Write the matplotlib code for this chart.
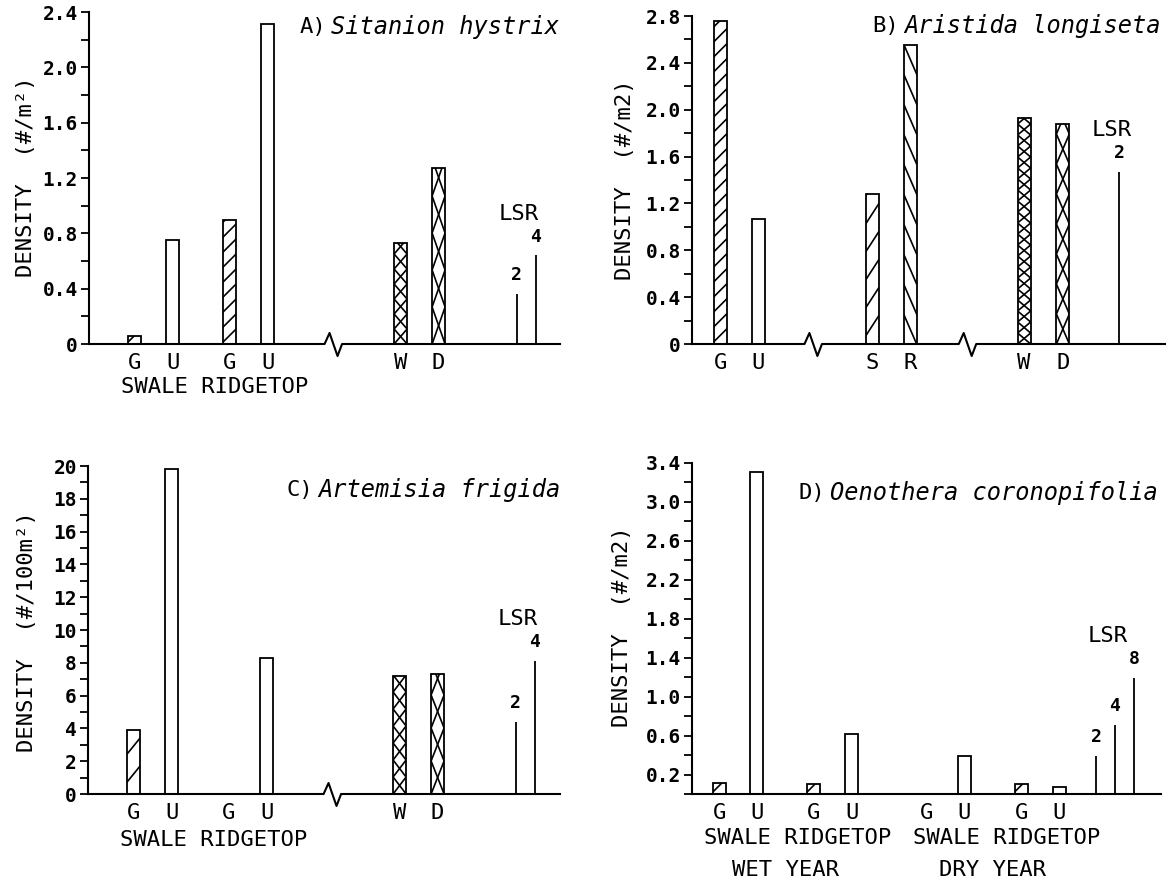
"""
Density bar charts for four species (swale / ridgetop, wet / dry year)
"""

import numpy as np
import matplotlib
matplotlib.use('Agg')  # no display
import matplotlib.pyplot as plt

plt.rcParams['font.family'] = ['DejaVu Sans Mono', 'DejaVu Sans']
plt.rcParams['axes.linewidth'] = 1.5

# ---- data ----
a_labels = ['G', 'U', 'G', 'U', 'W', 'D']
a_values = [0.06, 0.75, 0.90, 2.31, 0.73, 1.27]
a_lsr_labels = ['2', '4']
a_lsr_values = [0.36, 0.64]

b_labels = ['G', 'U', 'S', 'R', 'W', 'D']
b_values = [2.76, 1.07, 1.28, 2.55, 1.93, 1.88]
b_lsr_labels = ['2']
b_lsr_values = [1.47]

c_labels = ['G', 'U', 'G', 'U', 'W', 'D']
c_values = [3.9, 19.8, 0.0, 8.3, 7.2, 7.3]
c_lsr_labels = ['2', '4']
c_lsr_values = [4.4, 8.1]

d_labels = ['G', 'U', 'G', 'U', 'G', 'U', 'G', 'U']
d_values = [0.11, 3.31, 0.10, 0.62, 0.0, 0.39, 0.10, 0.07]
d_lsr_labels = ['2', '4', '8']
d_lsr_values = [0.39, 0.71, 1.19]

# ---- layout (pixels on a 1169x884 canvas, x slots of 38 px) ----
W_PX, H_PX = 1169, 884
SLOT = 38.0
BAR_W = 13 / SLOT

fig = plt.figure(figsize=(11.69, 8.84), dpi=100)
fig.patch.set_facecolor('white')


def make_axes(left, top, right, bottom):
    ax = fig.add_axes([left / W_PX, 1 - bottom / H_PX,
                       (right - left) / W_PX, (bottom - top) / H_PX])
    ax.set_xlim(0, (right - left) / SLOT)
    for side in ('top', 'right', 'bottom'):
        ax.spines[side].set_visible(False)
    ax.set_xticks([])
    ax.patch.set_alpha(0)
    return ax


def hatch_bar(ax, rect, kind, step, rise):
    """Draw sparse hatch lines (step / rise given in pixels) clipped to a bar."""
    x0, y0 = rect.get_x(), rect.get_y()
    x1, y1 = x0 + rect.get_width(), y0 + rect.get_height()
    (px0, py0), (px1, py1) = ax.transData.transform([(x0, y0), (x1, y1)])
    inv = ax.transData.inverted()
    dirs = {'/': [1], '\\': [-1], 'x': [1, -1]}[kind]
    for d in dirs:
        c = py0 - rise
        while c < py1:
            if d == 1:
                pts = [(px0, c), (px1, c + rise)]
            else:
                pts = [(px0, c + rise), (px1, c)]
            (dx0, dy0), (dx1, dy1) = inv.transform(pts)
            line, = ax.plot([dx0, dx1], [dy0, dy1], color='black', lw=1.2, zorder=3)
            line.set_clip_path(rect)
            c += step


def baseline(ax, breaks, height_px):
    xmax = ax.get_xlim()[1]
    up, down = 11 / height_px, -12 / height_px
    xs, ys = [0], [0]
    for b in breaks:
        xs += [b - 0.22, b - 0.09, b + 0.12, b + 0.24]
        ys += [0, up, down, 0]
    xs.append(xmax)
    ys.append(0)
    ax.plot(xs, ys, color='black', lw=1.5, transform=ax.get_xaxis_transform(),
            clip_on=False, zorder=4)


def below(ax, x, text, dy_px, size=16, ha='center', dx_px=0):
    ax.annotate(text, xy=(x, 0), xycoords=('data', 'axes fraction'),
                xytext=(dx_px * 0.72, -dy_px * 0.72), textcoords='offset points',
                ha=ha, va='center', fontsize=size, annotation_clip=False)


def draw_panel(ax, pos, values, labels, hatches, lsr_pos, lsr_values, lsr_labels,
               breaks, ymax, major, minor, fmt, height_px):
    ax.set_ylim(0, ymax)
    bars = ax.bar(pos, values, width=BAR_W, facecolor='white', edgecolor='black',
                  linewidth=1.3, zorder=2)
    for rect, h in zip(bars, hatches):
        if h is not None:
            hatch_bar(ax, rect, *h)
    ax.vlines(lsr_pos, 0, lsr_values, color='black', lw=1.3, zorder=2)
    for x, v, t in zip(lsr_pos, lsr_values, lsr_labels):
        ax.annotate(t, xy=(x, v), xytext=(0, 13.5), textcoords='offset points',
                    ha='center', va='center', fontsize=13, fontweight='bold')
    top_i = int(np.argmax(lsr_values))
    ax.annotate('LSR', xy=(np.mean(lsr_pos), lsr_values[top_i]),
                xytext=(-5, 30), textcoords='offset points',
                ha='center', va='center', fontsize=16)
    baseline(ax, breaks, height_px)

    ax.set_yticks(major)
    ax.set_yticklabels([fmt(v) for v in major], fontsize=14, fontweight='bold')
    ax.set_yticks(minor, minor=True)
    ax.tick_params(axis='y', which='both', direction='out', length=6, width=1.3, pad=2)

    for x, t in zip(pos, labels):
        below(ax, x, t, 19)


def fmt_dec(v):
    return '0' if abs(v) < 1e-9 else '%.1f' % v


def fmt_int(v):
    return '%d' % round(v)


# ---- panel A ----
ax_a = make_axes(89, 12, 560, 344)
pos_ac = [1.2, 2.2, 3.7, 4.7, 8.2, 9.2]
lsr_pos_ac = [11.25, 11.75]
hatch_a = [('/', 15, 13), None, ('/', 15, 13), None, ('x', 15, 15), ('x', 37, 37)]
draw_panel(ax_a, pos_ac, a_values, a_labels, hatch_a, lsr_pos_ac, a_lsr_values,
           a_lsr_labels, [6.42], 2.4, np.arange(0, 2.41, 0.4),
           np.arange(0, 2.41, 0.2), fmt_dec, 332)
below(ax_a, pos_ac[0], 'SWALE RIDGETOP', 43, ha='left', dx_px=-14)

# ---- panel B ----
ax_b = make_axes(692, 16, 1165, 344)
pos_b = [0.74, 1.74, 4.74, 5.74, 8.74, 9.76]
hatch_b = [('/', 15, 13), None, ('/', 28, 20), ('\\', 30, 30), ('x', 11, 11), ('x', 30, 30)]
draw_panel(ax_b, pos_b, b_values, b_labels, hatch_b, [11.24], b_lsr_values,
           b_lsr_labels, [3.18, 7.24], 2.8, np.arange(0, 2.81, 0.4),
           np.arange(0, 2.81, 0.2), fmt_dec, 328)

# ---- panel C ----
ax_c = make_axes(88, 466, 560, 794)
hatch_c = [('/', 28, 16), None, None, None, ('x', 17, 17), ('x', 33, 33)]
draw_panel(ax_c, pos_ac, c_values, c_labels, hatch_c, lsr_pos_ac, c_lsr_values,
           c_lsr_labels, [6.42], 20, np.arange(0, 20.1, 2),
           np.arange(0, 20.1, 1), fmt_int, 328)
below(ax_c, pos_ac[0], 'SWALE RIDGETOP', 46, ha='left', dx_px=-14)

# ---- panel D ----
ax_d = make_axes(692, 463, 1161, 794)
pos_d = [0.72, 1.71, 3.2, 4.2, 6.17, 7.17, 8.66, 9.66]
hatch_d = [('/', 15, 13), None, ('/', 15, 13), None, None, None, ('/', 15, 13), None]
draw_panel(ax_d, pos_d, d_values, d_labels, hatch_d, [10.63, 11.13, 11.63],
           d_lsr_values, d_lsr_labels, [], 3.4, np.arange(0.2, 3.41, 0.4),
           np.arange(0, 3.41, 0.2), fmt_dec, 331)
below(ax_d, pos_d[0], 'SWALE RIDGETOP', 44, ha='left', dx_px=-15)
below(ax_d, pos_d[4], 'SWALE RIDGETOP', 44, ha='left', dx_px=-13)
below(ax_d, np.mean(pos_d[:4]), 'WET YEAR', 76)
below(ax_d, np.mean(pos_d[4:]), 'DRY YEAR', 76)

# ---- titles and axis labels ----
titles = [('A)', 'Sitanion hystrix', 331, 27),
          ('B)', 'Aristida longiseta', 904, 26),
          ('C)', 'Artemisia frigida', 318, 490),
          ('D)', 'Oenothera coronopifolia', 830, 493)]
for tag, name, x, y in titles:
    fig.text((x - 5) / W_PX, 1 - y / H_PX, tag, ha='right', va='center', fontsize=16)
    fig.text(x / W_PX, 1 - y / H_PX, name, ha='left', va='center', fontsize=17,
             style='italic')

ylabels = [('DENSITY  (#/m²)', 26, 177),
           ('DENSITY  (#/m2)', 625, 180),
           ('DENSITY  (#/100m²)', 27, 632),
           ('DENSITY  (#/m2)', 622, 627)]
for text, x, y in ylabels:
    fig.text(x / W_PX, 1 - y / H_PX, text, rotation=90, ha='center', va='center',
             fontsize=16)

fig.savefig('out.png', dpi=100, facecolor='white')
